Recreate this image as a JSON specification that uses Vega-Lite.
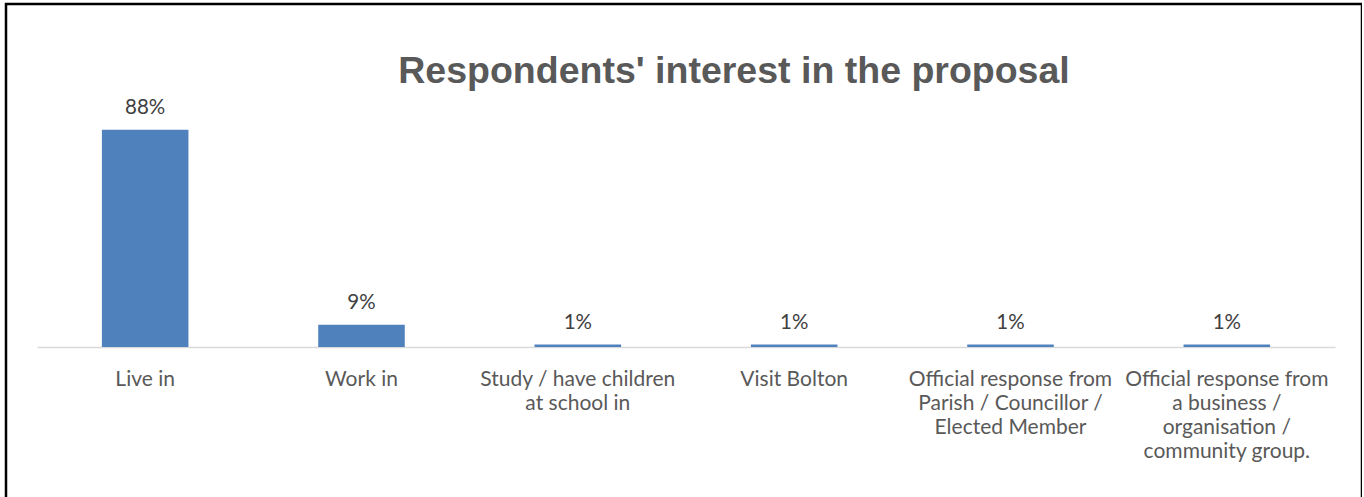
{
  "$schema": "https://vega.github.io/schema/vega-lite/v6.json",
  "width": 1356,
  "height": 500,
  "autosize": {"type": "none"},
  "padding": {"left": 6, "top": 4, "right": 0, "bottom": 0},
  "background": "white",
  "title": {
    "text": "Respondents' interest in the proposal",
    "font": "Liberation Sans",
    "fontSize": 37.5,
    "fontWeight": "bold",
    "color": "#595959",
    "anchor": "middle",
    "baseline": "alphabetic",
    "dx": 50,
    "offset": -116
  },
  "data": {
    "values": [
      {"category": "Live in", "pct": 0.88},
      {"category": "Work in", "pct": 0.09},
      {"category": "Study / have children at school in", "pct": 0.01},
      {"category": "Visit Bolton", "pct": 0.01},
      {"category": "Official response from Parish / Councillor / Elected Member", "pct": 0.01},
      {"category": "Official response from a business / organisation / community group.", "pct": 0.01}
    ]
  },
  "config": {"view": {"stroke": "#000000", "strokeWidth": 2.5}},
  "encoding": {
    "x": {
      "field": "category",
      "type": "nominal",
      "sort": null,
      "scale": {"paddingInner": 0.6, "paddingOuter": 0.3, "range": [31, 1329]},
      "axis": {
        "title": null,
        "labelAngle": 0,
        "ticks": false,
        "offset": -157,
        "domainColor": "#D9D9D9",
        "domainWidth": 1.5,
        "labelFont": "Lato",
        "labelFontSize": 21,
        "labelColor": "#595959",
        "labelPadding": 21,
        "labelLineHeight": 24,
        "labelBaseline": "top",
        "labelLimit": 300,
        "labelExpr": "datum.value == 'Study / have children at school in' ? ['Study / have children', 'at school in'] : datum.value == 'Official response from Parish / Councillor / Elected Member' ? ['Official response from', 'Parish / Councillor /', 'Elected Member'] : datum.value == 'Official response from a business / organisation / community group.' ? ['Official response from', 'a business /', 'organisation /', 'community group.'] : datum.value"
      }
    },
    "y": {
      "field": "pct",
      "type": "quantitative",
      "scale": {"domain": [0, 1], "range": [343, 96]},
      "axis": null
    }
  },
  "layer": [
    {"mark": {"type": "bar", "color": "#4F81BD"}},
    {
      "mark": {"type": "text", "dy": -12, "baseline": "bottom", "font": "Lato", "fontSize": 20.5, "color": "#404040"},
      "encoding": {"text": {"field": "pct", "type": "quantitative", "format": ".0%"}}
    }
  ]
}
